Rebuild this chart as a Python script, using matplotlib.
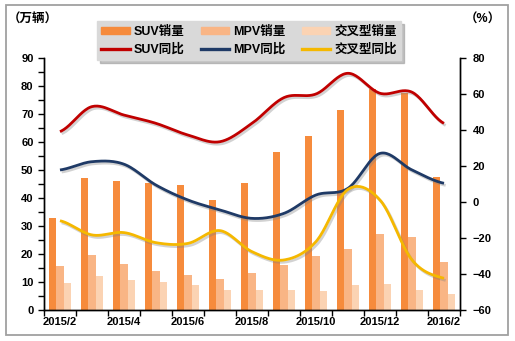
import numpy as np
import matplotlib.pyplot as plt
from matplotlib import patheffects as pe
from matplotlib.patches import Rectangle, Patch
from matplotlib.lines import Line2D

plt.rcParams['font.family'] = ['Liberation Sans', 'Noto Sans CJK SC']
plt.rcParams['font.weight'] = 'bold'

months = ['2015/2', '2015/3', '2015/4', '2015/5', '2015/6', '2015/7', '2015/8',
          '2015/9', '2015/10', '2015/11', '2015/12', '2016/1', '2016/2']
# 销量（万辆）
suv_sales = [32.7, 47.0, 46.1, 45.2, 44.6, 39.3, 45.3, 56.5, 62.1, 71.4, 79.0, 77.4, 47.5]
mpv_sales = [15.7, 19.6, 16.4, 14.0, 12.5, 11.1, 13.2, 16.1, 19.3, 21.8, 27.1, 26.0, 17.1]
cross_sales = [9.7, 12.1, 10.8, 10.0, 8.8, 7.1, 7.1, 7.1, 6.8, 8.8, 9.3, 7.0, 5.7]
# 同比（%）
suv_yoy = [39.1, 53.0, 48.3, 43.7, 37.2, 33.5, 43.7, 58.0, 60.0, 71.5, 60.4, 61.0, 43.7]
mpv_yoy = [17.8, 22.4, 21.0, 9.4, 1.1, -4.4, -9.1, -6.3, 3.9, 7.6, 27.0, 17.8, 10.4]
cross_yoy = [-10.4, -18.3, -17.0, -22.6, -23.0, -15.9, -27.6, -32.2, -22.0, 7.0, 1.1, -32.2, -42.4]

c_suv, c_mpv, c_cross = '#F68B3C', '#F9B585', '#FBD3B3'
l_suv, l_mpv, l_cross = '#C00000', '#1F3A66', '#F5B800'


def smooth(y, n=24):
    # Catmull-Rom 平滑曲线
    y = np.asarray(y, float)
    p = np.concatenate([[y[0]], y, [y[-1]]])
    xs, ys = [], []
    t = np.linspace(0, 1, n, endpoint=False)
    for i in range(len(y) - 1):
        p0, p1, p2, p3 = p[i], p[i + 1], p[i + 2], p[i + 3]
        v = 0.5 * (2 * p1 + (p2 - p0) * t + (2 * p0 - 5 * p1 + 4 * p2 - p3) * t ** 2
                   + (3 * p1 - p0 - 3 * p2 + p3) * t ** 3)
        xs.append(i + t)
        ys.append(v)
    xs.append([len(y) - 1])
    ys.append([y[-1]])
    return np.concatenate(xs), np.concatenate(ys)


fig = plt.figure(figsize=(5.15, 3.41), dpi=100)
fig.patches.append(Rectangle((0.011, 0.018), 0.976, 0.968, transform=fig.transFigure,
                             fill=False, edgecolor='#A0A0A0', linewidth=1.3))
ax = fig.add_axes([0.0854, 0.0909, 0.8078, 0.739])
ax2 = ax.twinx()

x = np.arange(len(months))
w = 0.22
ax.bar(x - w, suv_sales, w, color=c_suv)
ax.bar(x, mpv_sales, w, color=c_mpv)
ax.bar(x + w, cross_sales, w, color=c_cross)

shadow = [pe.SimpleLineShadow(offset=(1.2, -1.5), shadow_color='#808080', alpha=0.35),
          pe.Normal()]
for vals, col in [(suv_yoy, l_suv), (mpv_yoy, l_mpv), (cross_yoy, l_cross)]:
    sx, sy = smooth(vals)
    ax2.plot(sx, sy, color=col, linewidth=2.0, solid_capstyle='butt', path_effects=shadow)

ax.set_xlim(-0.5, len(months) - 0.5)
ax.set_ylim(0, 90)
ax2.set_ylim(-60, 80)

ax.set_xticks(np.arange(-0.5, len(months), 1))
ax.set_xticklabels([])
ax.set_xticks(x[::2], minor=True)
ax.set_xticklabels(months[::2], minor=True)
ax.tick_params(axis='x', which='major', length=4, width=1, direction='out')
ax.tick_params(axis='x', which='minor', length=0, pad=5, labelsize=8)

ax.set_yticks(np.arange(0, 91, 10))
ax.set_yticks(np.arange(5, 90, 10), minor=True)
ax.tick_params(axis='y', which='both', length=4, width=1, direction='out', labelsize=8)
ax2.set_yticks(np.arange(-60, 81, 20))
ax2.tick_params(axis='y', length=4, width=1, direction='out', labelsize=8, pad=5)

for a in (ax, ax2):
    a.spines['top'].set_visible(False)
    for s in ('left', 'right', 'bottom'):
        a.spines[s].set_linewidth(1)
        a.spines[s].set_color('black')

fig.text(0.064, 0.942, '（万辆）', ha='center', va='center', fontsize=9)
fig.text(0.938, 0.942, '（%）', ha='center', va='center', fontsize=9)

handles = [Patch(color=c_suv), Line2D([], [], color=l_suv, linewidth=2.4),
           Patch(color=c_mpv), Line2D([], [], color=l_mpv, linewidth=2.4),
           Patch(color=c_cross), Line2D([], [], color=l_cross, linewidth=2.4)]
labels = ['SUV销量', 'SUV同比', 'MPV销量', 'MPV同比', '交叉型销量', '交叉型同比']
leg = ax2.legend(handles, labels, ncol=3, loc='upper left', bbox_to_anchor=(0.112, 1.17),
                 fontsize=9, frameon=True, fancybox=False, shadow={'color': '#9A9A9A', 'alpha': 0.6},
                 facecolor='#D9D9D9', edgecolor='#D9D9D9', framealpha=1,
                 handlelength=2.3, handleheight=0.55, handletextpad=0.3,
                 columnspacing=1.3, borderpad=0.35, labelspacing=0.45)

fig.savefig('out.png', dpi=100)
